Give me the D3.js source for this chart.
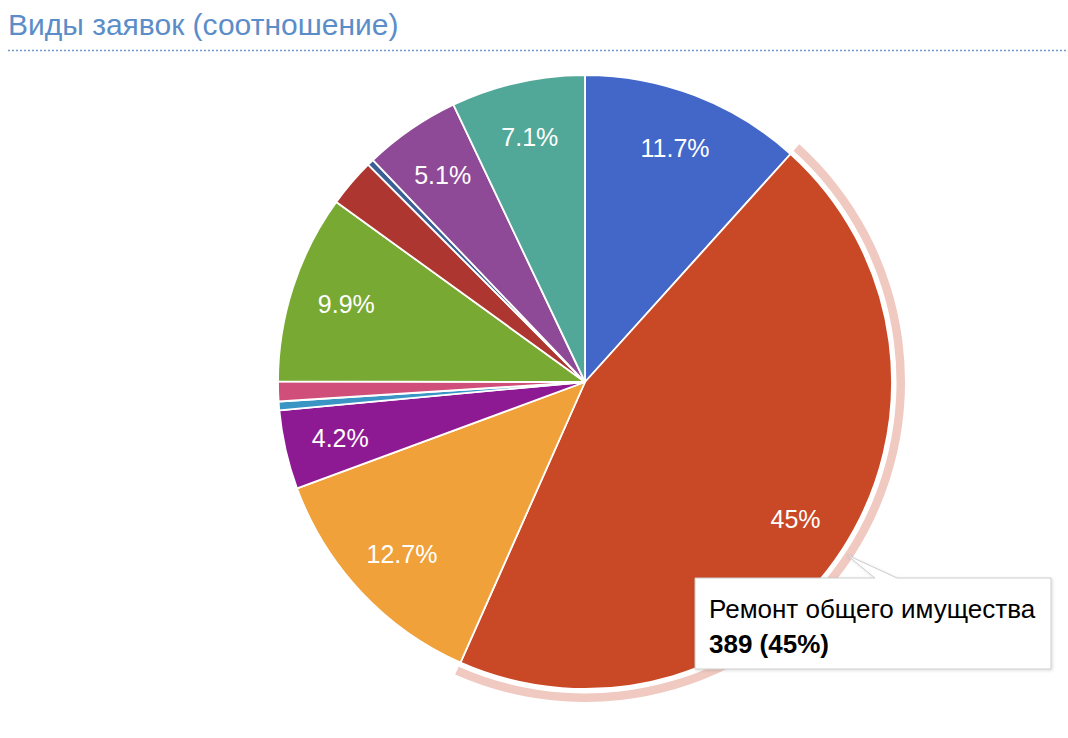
<!DOCTYPE html>
<html>
<head>
<meta charset="utf-8">
<script src="https://cdn.jsdelivr.net/npm/d3@7/dist/d3.min.js"></script>
<style>
  html, body { margin: 0; padding: 0; background: #fff; }
  svg { display: block; font-family: "Liberation Sans", Arial, Helvetica, sans-serif; }
</style>
</head>
<body>
<svg id="chart" width="1068" height="738"></svg>
<script>
// ---- data ----
const categories = [
  "Вид заявки 1",
  "Ремонт общего имущества",
  "Вид заявки 3",
  "Вид заявки 4",
  "Вид заявки 5",
  "Вид заявки 6",
  "Вид заявки 7",
  "Вид заявки 8",
  "Вид заявки 9",
  "Вид заявки 10",
  "Вид заявки 11"
];
const values = [101, 389, 110, 36, 4, 9, 86, 22, 3, 44, 61];
const colors = ["#4267c8", "#c94826", "#f0a13a", "#8e1a93", "#3a95c4", "#d04e7a",
                "#78a932", "#ad3730", "#3a5f94", "#8f4a97", "#52a898"];
const titleText = "Виды заявок (соотношение)";
const highlightIndex = 1;

// ---- layout ----
const svg = d3.select("#chart");
const cx = 585, cy = 382, R = 307;

svg.append("text")
  .attr("x", 8).attr("y", 35)
  .attr("font-size", 30)
  .attr("fill", "#5b8dc8")
  .text(titleText);

svg.append("line")
  .attr("x1", 8).attr("x2", 1068)
  .attr("y1", 50.5).attr("y2", 50.5)
  .attr("stroke", "#6f9bcf")
  .attr("stroke-width", 1.5)
  .attr("stroke-dasharray", "2,2");

const total = d3.sum(values);
const pie = d3.pie().sort(null).value(d => d)(values);
const arc = d3.arc().innerRadius(0).outerRadius(R);
const labelArc = d3.arc().innerRadius(251).outerRadius(251);

const g = svg.append("g").attr("transform", `translate(${cx},${cy})`);

// highlight ring
const hp = pie[highlightIndex];
g.append("path")
  .attr("d", d3.arc().innerRadius(R + 4.5).outerRadius(R + 13)(hp))
  .attr("fill", "#f0c9c1");

g.selectAll("path.slice")
  .data(pie)
  .join("path")
  .attr("class", "slice")
  .attr("d", arc)
  .attr("fill", (d, i) => colors[i])
  .attr("stroke", "#fff")
  .attr("stroke-width", 1.8)
  .attr("stroke-linejoin", "round");

const fmt = v => {
  const p = Math.round(v / total * 1000) / 10;
  return (p % 1 === 0 ? p.toFixed(0) : p.toFixed(1)) + "%";
};

g.selectAll("text.lbl")
  .data(pie.filter(d => d.value / total > 0.03))
  .join("text")
  .attr("class", "lbl")
  .attr("transform", d => `translate(${labelArc.centroid(d)})`)
  .attr("text-anchor", "middle")
  .attr("dy", "0.36em")
  .attr("font-size", 25)
  .attr("fill", "#fff")
  .text(d => fmt(d.value));

// tooltip
const tip = svg.append("g");
const tx = 695, ty = 578, tw = 356, th = 91;
const defs = svg.append("defs");
const f = defs.append("filter").attr("id", "sh").attr("x", "-10%").attr("y", "-10%").attr("width", "130%").attr("height", "140%");
f.append("feDropShadow").attr("dx", 1).attr("dy", 1).attr("stdDeviation", 1.5).attr("flood-color", "#000").attr("flood-opacity", 0.15);

tip.append("path")
  .attr("d", `M${tx},${ty} H${tx + 180} L${847},${555} L${tx + 202},${ty} H${tx + tw} V${ty + th} H${tx} Z`)
  .attr("fill", "#fff")
  .attr("stroke", "#cccccc")
  .attr("stroke-width", 1)
  .attr("filter", "url(#sh)");

tip.append("text")
  .attr("x", tx + 14).attr("y", ty + 40)
  .attr("font-size", 26)
  .attr("fill", "#000")
  .text(categories[highlightIndex]);

tip.append("text")
  .attr("x", tx + 14).attr("y", ty + 75)
  .attr("font-size", 26)
  .attr("font-weight", "bold")
  .attr("fill", "#000")
  .text(`${values[highlightIndex]} (${fmt(values[highlightIndex])})`);
</script>
</body>
</html>
